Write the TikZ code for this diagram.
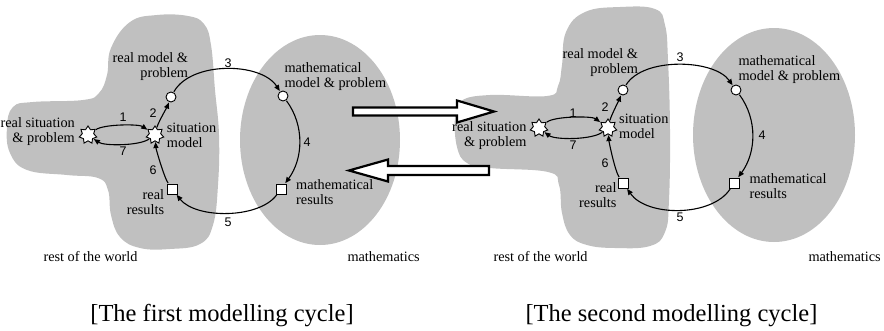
\documentclass[tikz,border=0pt]{standalone}
\usepackage{fontspec}
\setmainfont{Liberation Serif}
\newfontfamily\numfont{Liberation Sans}
\usetikzlibrary{shapes.geometric,arrows.meta}
\definecolor{blobgray}{RGB}{192,192,192}
\begin{document}
\begin{tikzpicture}[x=1pt,y=1pt,
  starnode/.style={star,star points=7,star point ratio=1.55,minimum size=18pt,inner sep=0pt,draw=black,fill=white,line width=0.9pt},
  circnode/.style={circle,minimum size=10pt,inner sep=0pt,draw=black,fill=white,line width=0.9pt},
  sqnode/.style={rectangle,minimum size=10pt,inner sep=0pt,draw=black,fill=white,line width=0.9pt},
  conn/.style={line width=1.1pt,-{Triangle[length=6pt,width=5pt]},shorten >=0.5pt,shorten <=0.5pt},
  lbl/.style={font=\fontsize{14.3}{15}\selectfont,inner sep=0pt},
  num/.style={font=\numfont\fontsize{12.5}{14}\selectfont,inner sep=0pt},
  captext/.style={font=\fontsize{24.5}{28}\selectfont,inner sep=0pt},
  blockarrow/.style={draw=black,fill=white,line width=2.2pt,miter limit=10},
  region/.style={fill=blobgray,draw=none}]
\useasboundingbox (0,0) rectangle (884,-330);

% ---------- regions ----------
\fill[region] plot[smooth cycle,tension=0.7] coordinates {
 (130,-22) (157,-15) (188,-16) (204,-24) (211,-45) (215,-90) (219,-135) (218,-185)
 (213,-225) (200,-244) (170,-249) (140,-248) (120,-237) (111,-215) (108,-190) (98,-178)
 (67,-175) (27,-170) (10,-153) (7,-127) (13,-107) (33,-102) (83,-100) (99,-93)
 (107,-75) (111,-48)};
\fill[region] (320,-140) ellipse [x radius=80, y radius=105];

\fill[region] plot[smooth cycle,tension=0.7] coordinates {
 (585,-12) (620,-7) (655,-9) (665,-25) (668,-60) (670,-130) (669,-200) (665,-232)
 (650,-246) (615,-248) (587,-245) (570,-235) (562,-213) (559,-185) (548,-172) (490,-168)
 (467,-163) (457,-147) (455,-117) (461,-101) (490,-95) (547,-96) (558,-86) (562,-65)
 (566,-32)};
\fill[region] (774,-135) ellipse [x radius=81, y radius=107];

% ---------- block arrows ----------
\draw[blockarrow] (353,-107.5) -- (457,-107.5) -- (457,-100.5) -- (494,-111.5)
  -- (457,-122.5) -- (457,-115.5) -- (353,-115.5) -- cycle;
\draw[blockarrow] (489,-166) -- (388,-166) -- (388,-159.5) -- (349,-170.5)
  -- (388,-181.5) -- (388,-175) -- (489,-175) -- cycle;

% ---------- first cycle ----------
\node[starnode] (rs1) at (88,-135) {};
\node[starnode] (sm1) at (155,-135) {};
\node[circnode] (rm1) at (171,-97) {};
\node[sqnode]   (rr1) at (172,-189) {};
\node[circnode] (mm1) at (283,-96) {};
\node[sqnode]   (mr1) at (281,-189) {};

\draw[conn] (rs1) .. controls +(16,11) and +(-16,11) .. (sm1);
\draw[conn] (sm1) .. controls +(-16,-11) and +(16,-11) .. (rs1);
\draw[conn] (sm1) .. controls +(3,12) and +(-4,-10) .. (rm1);
\draw[conn] (rr1) .. controls +(-8,12) and +(1,-14) .. (sm1);
\draw[conn] (rm1) .. controls +(20,36) and +(-22,34) .. (mm1);
\draw[conn] (mm1) .. controls +(22,-30) and +(22,30) .. (mr1);
\draw[conn] (mr1) .. controls +(-22,-30) and +(24,-30) .. (rr1);

\node[num] (n1a) at (123,-117) {1};
\node[num] (n7a) at (123,-151) {7};
\node[num] (n2a) at (153,-113) {2};
\node[num] (n6a) at (153,-170) {6};
\node[num] (n3a) at (228,-63) {3};
\node[num] (n5a) at (228,-222) {5};
\node[num] (n4a) at (307,-142) {4};

\node[lbl,align=right,anchor=east] (t1a) at (188.3,-66.9) {real model \&\\problem};
\node[lbl,align=right,anchor=east] (t2a) at (75,-131.9) {real situation\\\& problem};
\node[lbl,align=left,anchor=west] (t3a) at (166.7,-135.1) {situation\\model};
\node[lbl,align=right,anchor=east] (t4a) at (164.3,-201.7) {real\\results};
\node[lbl,align=left,anchor=west] (t5a) at (284.3,-76.5) {mathematical\\model \& problem};
\node[lbl,align=left,anchor=west] (t6a) at (296,-191.7) {mathematical\\results};
\node[lbl,anchor=base west] (t7a) at (43.3,-261) {rest of the world};
\node[lbl,anchor=base west] (t8a) at (347.3,-261) {mathematics};

% ---------- second cycle ----------
\node[starnode] (rs2) at (539,-128) {};
\node[starnode] (sm2) at (608,-128) {};
\node[circnode] (rm2) at (623,-90) {};
\node[sqnode]   (rr2) at (623,-183) {};
\node[circnode] (mm2) at (736,-90) {};
\node[sqnode]   (mr2) at (734,-183) {};

\draw[conn] (rs2) .. controls +(16,12) and +(-16,12) .. (sm2);
\draw[conn] (sm2) .. controls +(-16,-12) and +(16,-12) .. (rs2);
\draw[conn] (sm2) .. controls +(3,12) and +(-4,-10) .. (rm2);
\draw[conn] (rr2) .. controls +(-8,12) and +(1,-14) .. (sm2);
\draw[conn] (rm2) .. controls +(20,33) and +(-22,31) .. (mm2);
\draw[conn] (mm2) .. controls +(22,-30) and +(22,30) .. (mr2);
\draw[conn] (mr2) .. controls +(-22,-34) and +(24,-34) .. (rr2);

\node[num] (n1b) at (573,-113) {1};
\node[num] (n7b) at (573,-145) {7};
\node[num] (n2b) at (605,-107) {2};
\node[num] (n6b) at (605,-163) {6};
\node[num] (n3b) at (680,-57) {3};
\node[num] (n5b) at (680,-217) {5};
\node[num] (n4b) at (762,-135) {4};

\node[lbl,align=right,anchor=east] (t1b) at (638.3,-62.5) {real model \&\\problem};
\node[lbl,align=right,anchor=east] (t2b) at (526.7,-135.2) {real situation\\\& problem};
\node[lbl,align=left,anchor=west] (t3b) at (619,-126.8) {situation\\model};
\node[lbl,align=right,anchor=east] (t4b) at (616.7,-195.4) {real\\results};
\node[lbl,align=left,anchor=west] (t5b) at (738.3,-69.9) {mathematical\\model \& problem};
\node[lbl,align=left,anchor=west] (t6b) at (749.3,-186) {mathematical\\results};
\node[lbl,anchor=base west] (t7b) at (493.3,-261) {rest of the world};
\node[lbl,anchor=base west] (t8b) at (808.3,-261) {mathematics};

% ---------- captions ----------
\node[captext,anchor=base] (c1) at (222,-321.7) {[The first modelling cycle]};
\node[captext,anchor=base] (c2) at (671.5,-321.7) {[The second modelling cycle]};
\end{tikzpicture}
\end{document}
